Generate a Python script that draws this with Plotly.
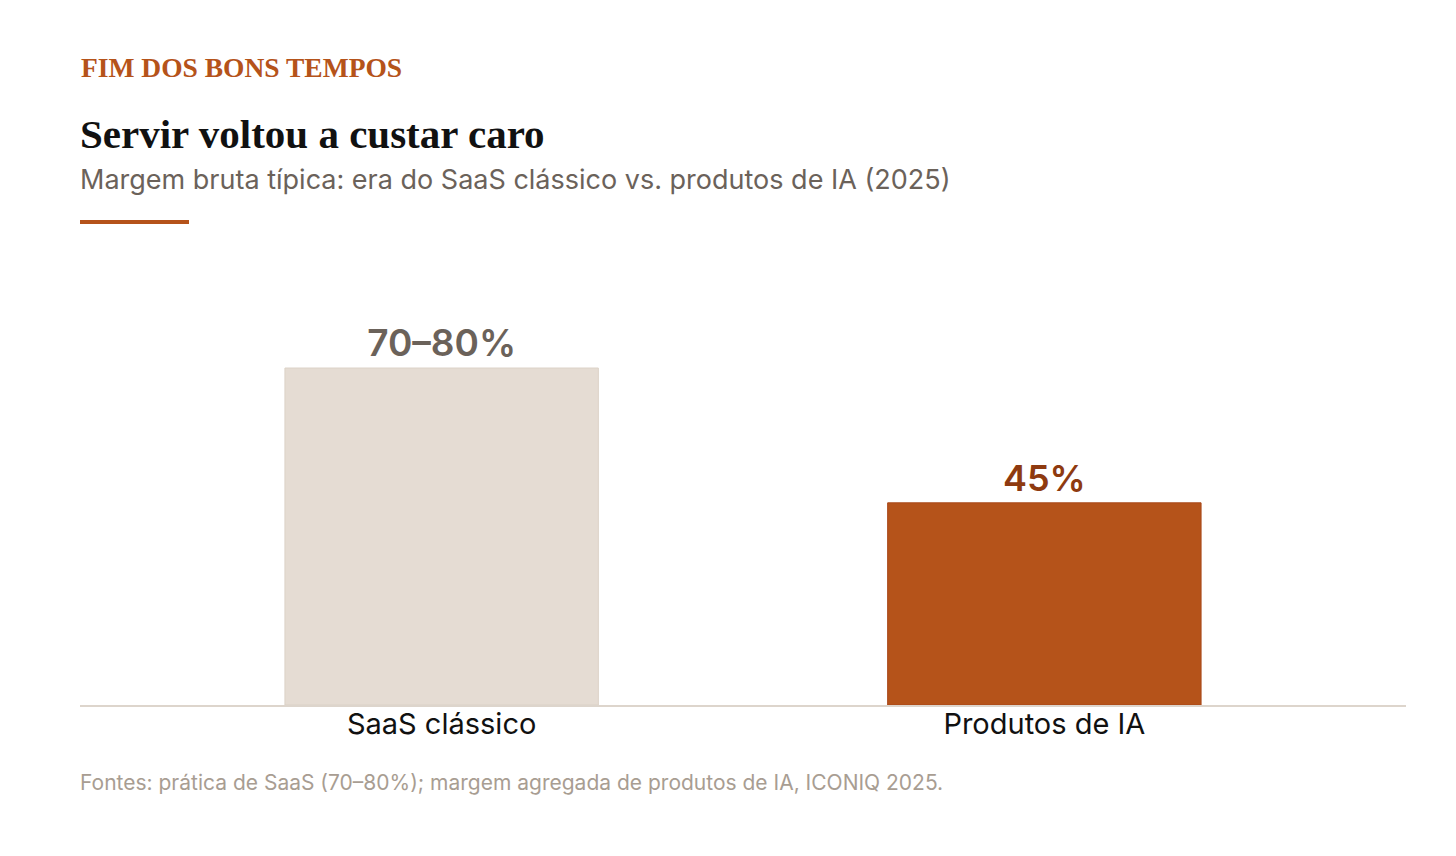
import plotly.graph_objects as go

categories = ["SaaS clássico", "Produtos de IA"]
values = [75, 45]
value_labels = ["70–80%", "45%"]

bar_colors = ["#e5dcd3", "#b5531a"]
bar_lines = ["#dcd2c7", "#a9481a"]
label_colors = ["#6b625a", "#8e3a10"]
label_sizes = [37, 36]

W, H = 1456, 856
OFF = 8  # page body offset

def px(x):
    return (x - OFF) / W

def py(y):
    return 1 - (y - OFF) / H

fig = go.Figure()
fig.add_trace(go.Bar(
    x=categories,
    y=values,
    width=0.52,
    marker=dict(color=bar_colors, line=dict(color=bar_lines, width=1)),
    text=value_labels,
    textposition="outside",
    textfont=dict(family="Inter", size=label_sizes, color=label_colors, weight=600),
    cliponaxis=False,
    hoverinfo="skip",
))

fig.update_layout(
    width=W, height=H,
    margin=dict(l=0, r=0, t=0, b=0),
    paper_bgcolor="white",
    plot_bgcolor="white",
    showlegend=False,
    xaxis=dict(
        domain=[px(80), px(1406)],
        range=[-0.6, 1.6],
        showgrid=False, zeroline=False,
        showline=True, linecolor="#ddd5cc", linewidth=2,
        ticks="", tickfont=dict(family="Inter", size=29, color="#111111"),
        ticklabelstandoff=-8,
    ),
    yaxis=dict(
        domain=[py(705), py(255.7)],
        range=[0, 100],
        showgrid=False, zeroline=False, showline=False,
        showticklabels=False, ticks="",
    ),
    annotations=[
        dict(text="<b>FIM DOS BONS TEMPOS</b>", x=px(79), y=py(68), xref="paper", yref="paper",
             xanchor="left", yanchor="middle", showarrow=False,
             font=dict(family="Liberation Serif", size=27.5, color="#b5531a")),
        dict(text="<b>Servir voltou a custar caro</b>", x=px(78), y=py(134), xref="paper", yref="paper",
             xanchor="left", yanchor="middle", showarrow=False,
             font=dict(family="Liberation Serif", size=41, color="#111111")),
        dict(text="Margem bruta típica: era do SaaS clássico vs. produtos de IA (2025)", x=px(78), y=py(180),
             xref="paper", yref="paper", xanchor="left", yanchor="middle", showarrow=False,
             font=dict(family="Inter", size=27, color="#6b625a")),
        dict(text="Fontes: prática de SaaS (70–80%); margem agregada de produtos de IA, ICONIQ 2025.",
             x=px(78), y=py(782), xref="paper", yref="paper", xanchor="left", yanchor="middle",
             showarrow=False, font=dict(family="Inter", size=21, color="#a89d92")),
    ],
    shapes=[
        dict(type="line", xref="paper", yref="paper", x0=px(80), x1=px(189), y0=py(222), y1=py(222),
             line=dict(color="#b5531a", width=4)),
    ],
)

fig.write_html("out.html")
